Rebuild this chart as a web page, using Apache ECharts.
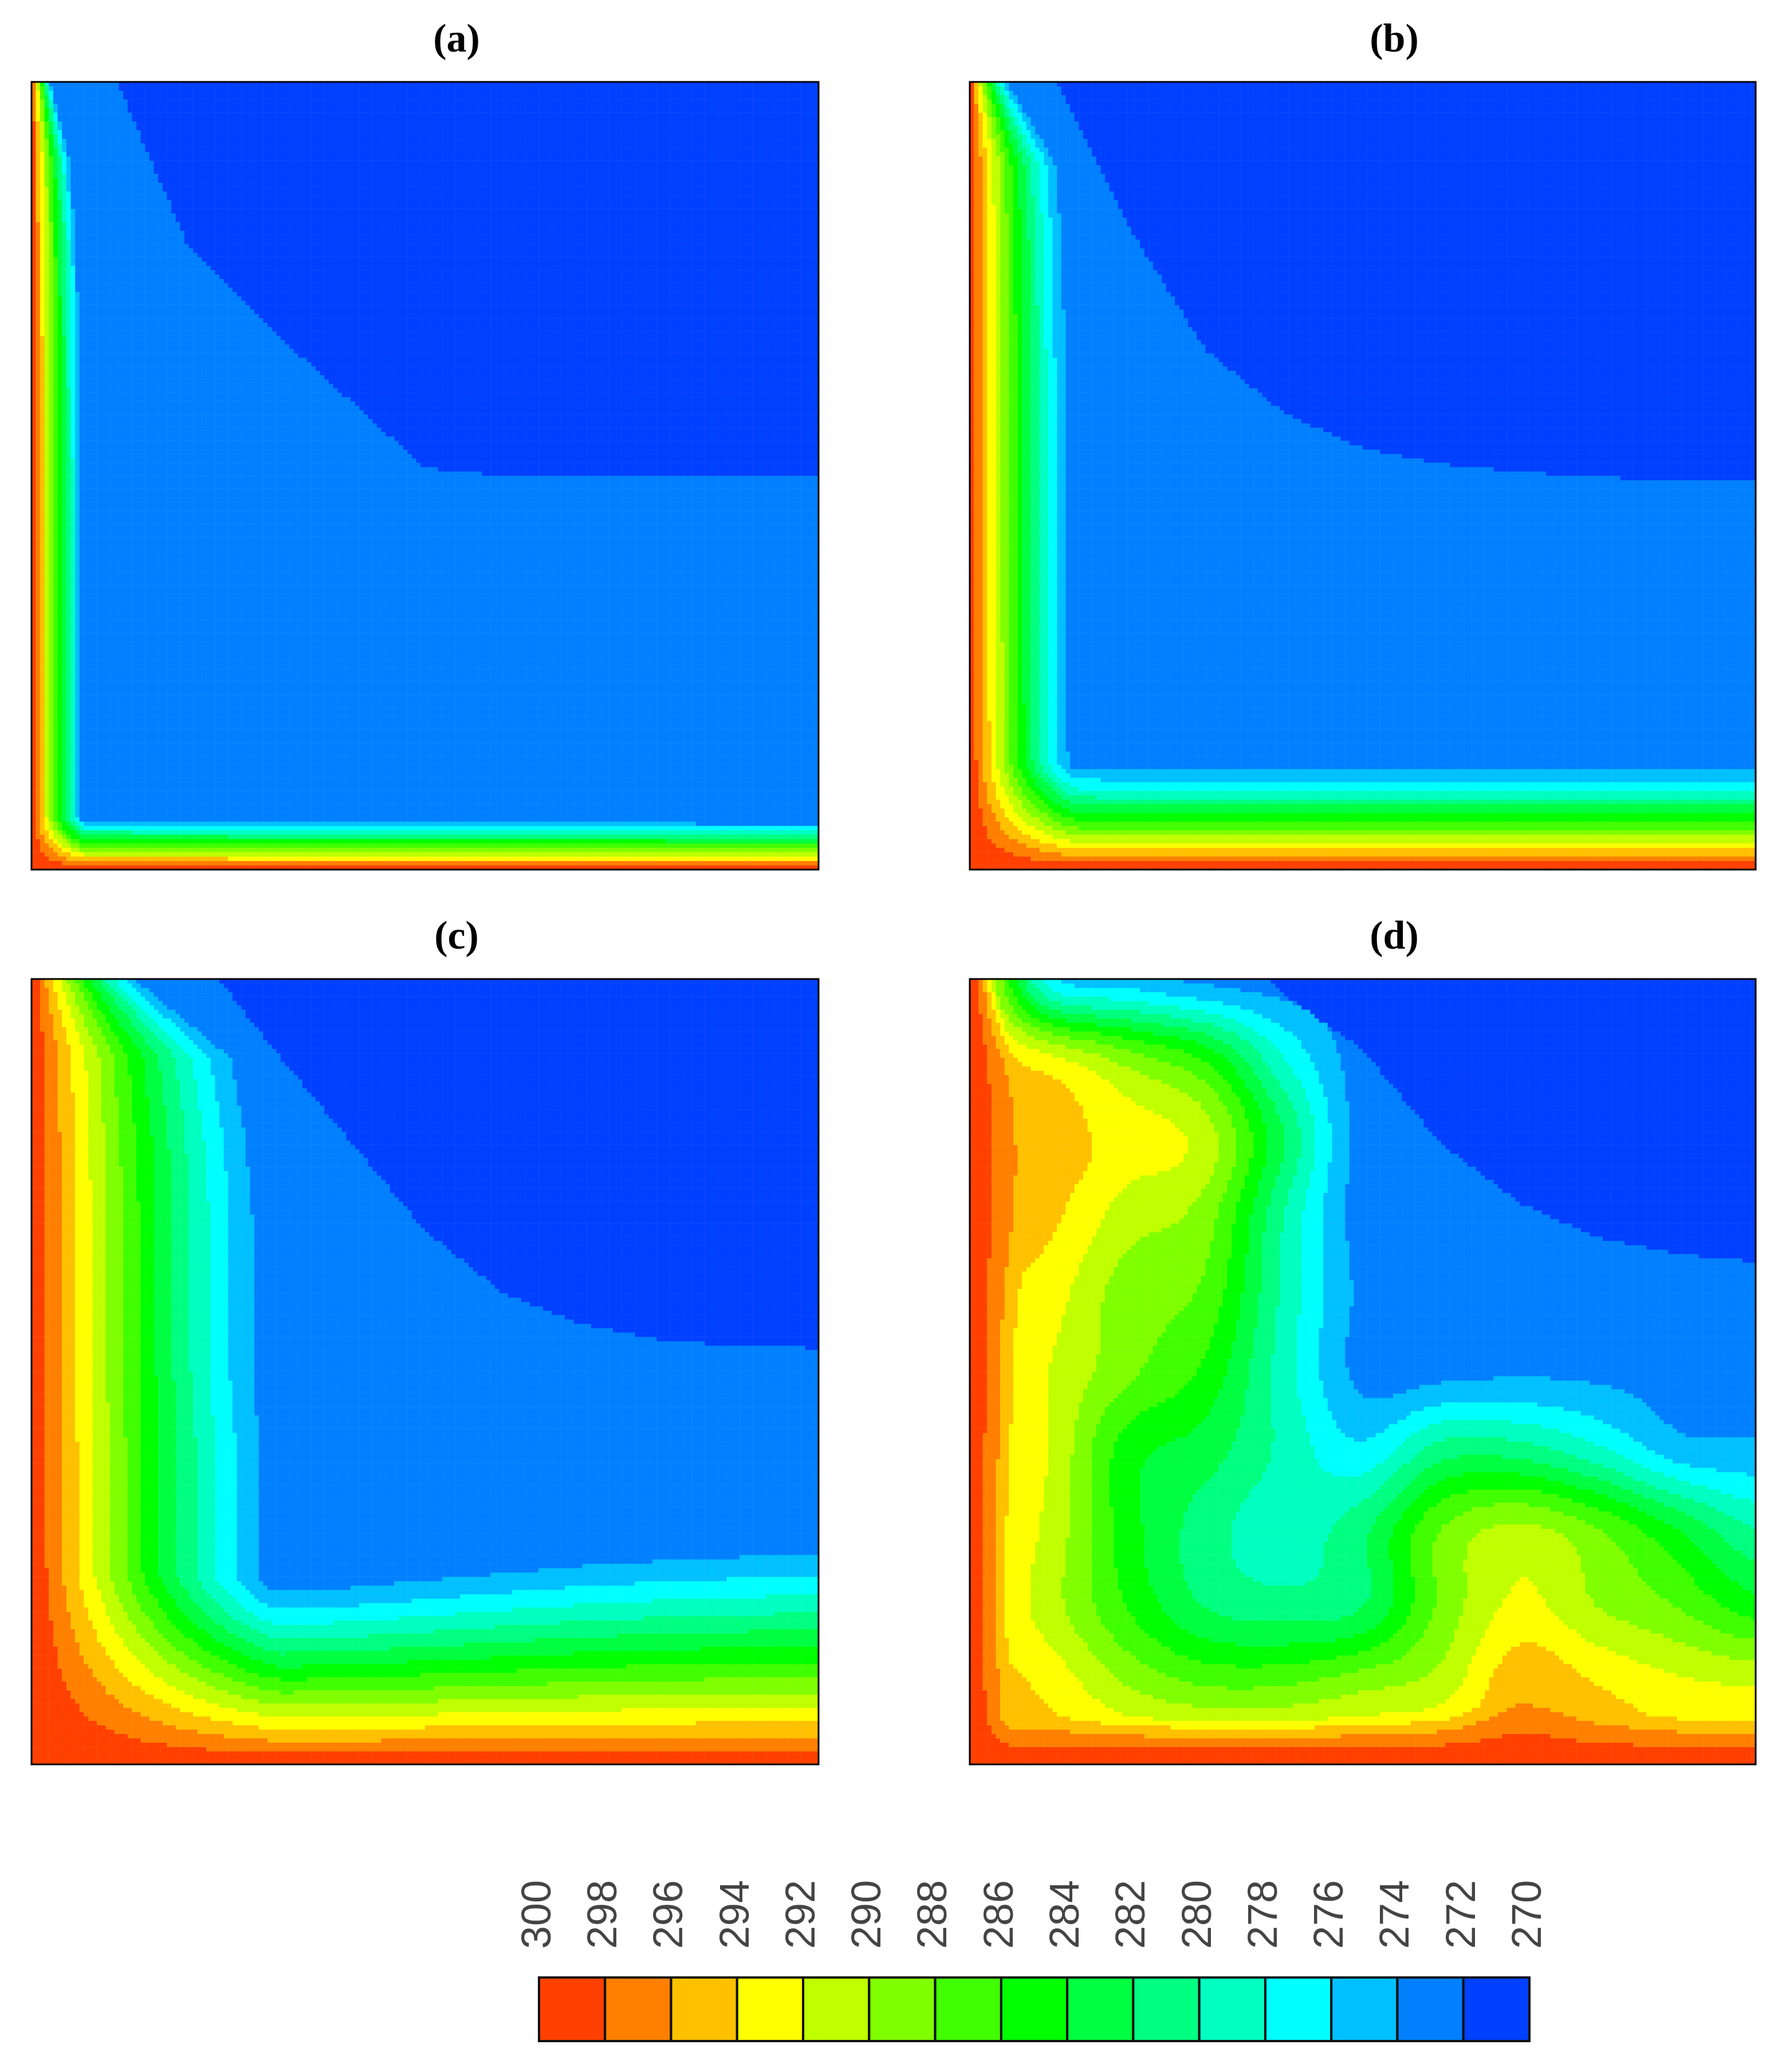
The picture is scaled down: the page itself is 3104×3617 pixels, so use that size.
<!DOCTYPE html>
<html><head><meta charset="utf-8">
<script src="https://cdn.jsdelivr.net/npm/echarts@6/dist/echarts.min.js"></script>
<style>html,body{margin:0;padding:0;background:#fff}#c{width:3104px;height:3617px}</style>
</head><body><div id="c"></div>
<script>
// ---- data ----
const panelLabels = ['a','b','c','d'];
const levelTicks = [300,298,296,294,292,290,288,286,284,282,280,278,276,274,272,270];
const bandColors = ['#ff4000','#ff8000','#ffc000','#ffff00','#c0ff00','#80ff00','#40ff00','#00ff00',
                    '#00ff40','#00ff80','#00ffc0','#00ffff','#00c0ff','#0080ff','#0040ff'];
const wallT = 300, warmCoreT = 273, coldCoreT = 271;
// boundary-layer thickness (fraction of width) of hot left wall, sampled at v = 0,0.1..1 (bottom->top)
const a_leftTh = [0.065,0.065,0.065,0.065,0.065,0.065,0.064,0.062,0.058,0.05,0.025];
const b_leftTh = [0.14,0.135,0.132,0.13,0.13,0.13,0.13,0.128,0.125,0.115,0.05];
const c_leftTh = [0.32,0.32,0.31,0.31,0.31,0.30,0.30,0.30,0.29,0.27,0.14];
const d_leftTh = [0.05,0.05,0.05,0.05,0.055,0.06,0.065,0.07,0.07,0.06,0.03];
// bottom-wall layer thickness sampled at u = 0..1
const a_botTh = [0.066,0.064,0.063,0.062,0.062,0.062,0.062,0.061,0.061,0.06,0.06];
const b_botTh = [0.14,0.137,0.135,0.135,0.135,0.135,0.135,0.135,0.135,0.135,0.135];
const c_botTh = [0.26,0.25,0.24,0.235,0.24,0.25,0.26,0.27,0.277,0.282,0.286];
const d_botTh = [0.06,0.06,0.06,0.06,0.06,0.06,0.065,0.08,0.065,0.06,0.06];
// height (v) of the cold-core boundary sampled at u = 0..1
const a_coldLine = [1.2,1.02,0.79,0.69,0.60,0.51,0.50,0.50,0.50,0.50,0.50];
const b_coldLine = [1.2,1.02,0.82,0.66,0.58,0.535,0.515,0.505,0.498,0.495,0.494];
const c_coldLine = [1.4,1.25,1.05,0.92,0.80,0.68,0.60,0.56,0.54,0.533,0.53];
const d_coldLine = [1.5,1.4,1.25,1.1,0.98,0.91,0.79,0.715,0.67,0.65,0.64];
const layerExp = [1.0,1.2,1.2,1.0];
// panel (d) core temperature grid, rows v=1 (top) .. v=0 (bottom), columns u=0..1
const d_grid = [
 [295,277,275,273.5,273,273,273,273,273,273,273],
 [295,292.5,289,285.5,278,273,273,273,273,273,273],
 [295,295,293,291,282,273,273,273,273,273,273],
 [295,294.5,291,289,280,273,273,273,273,273,273],
 [294.5,293,289,287.5,279.5,273.5,273,273,273,273,273],
 [294.5,292,288.5,285.5,279,273.3,273.3,273.7,273.5,273.2,273],
 [294.5,292,285,283,279.5,276.5,281,281,278.5,275,274.5],
 [294.5,291.5,285,281,279,281.5,288,290.5,288,284,280],
 [294.5,291,286,282,281,282,288.5,292.5,290,288,285],
 [295,293.5,290,288,288,289.5,291,295.5,294,292.5,292],
 [295,295,295,295,295,295,295.5,296,295.5,295,295]
];
// ---- layout ----
const N = 180;
const panelBoxes = [[55,143,1374,1375],[1693,143,1372,1375],[55,1709,1374,1371],[1693,1709,1372,1371]];
const barBox = [941,3452,1729,111];

function samp(arr,t){t=Math.max(0,Math.min(1,t))*(arr.length-1);const i=Math.min(arr.length-2,Math.floor(t));const f=t-i;return arr[i]*(1-f)+arr[i+1]*f;}
function cr(p0,p1,p2,p3,t){return 0.5*((2*p1)+(-p0+p2)*t+(2*p0-5*p1+4*p2-p3)*t*t+(-p0+3*p1-3*p2+p3)*t*t*t);}
function gridAt(g,u,v){
  const R=g.length-1,C=g[0].length-1;const r=(1-v)*R,c=u*C;
  const ri=Math.min(R-1,Math.floor(r)),ci=Math.min(C-1,Math.floor(c));const fr=r-ri,fc=c-ci;
  const G=(a,b)=>g[Math.max(0,Math.min(R,a))][Math.max(0,Math.min(C,b))];
  const rows=[];for(let k=-1;k<=2;k++){rows.push(cr(G(ri+k,ci-1),G(ri+k,ci),G(ri+k,ci+1),G(ri+k,ci+2),fc));}
  return cr(rows[0],rows[1],rows[2],rows[3],fr);
}
const layerSets=[[a_leftTh,a_botTh,a_coldLine,null],[b_leftTh,b_botTh,b_coldLine,null],[c_leftTh,c_botTh,c_coldLine,null],[d_leftTh,d_botTh,d_coldLine,d_grid]];
function temp(p,u,v){
  const [lt,bt,cl,gr]=layerSets[p];const e=layerExp[p];
  const cold = v > samp(cl,u);
  let core;
  if(gr){core=gridAt(gr,u,v); core = cold ? Math.min(core,coldCoreT) : Math.max(core,272.3);}
  else core = cold ? coldCoreT : warmCoreT;
  const f=Math.pow(Math.max(0,1-u/samp(lt,v)),e);
  const g=Math.pow(Math.max(0,1-v/samp(bt,u)),e);
  const un=1-(1-f)*(1-g);
  return core+(wallT-core)*un;
}
const cats=[];for(let i=0;i<N;i++)cats.push(i);
const grids=[],xAxes=[],yAxes=[],series=[],titles=[],graphics=[];
panelBoxes.forEach((b,p)=>{
  grids.push({left:b[0],top:b[1],width:b[2],height:b[3]});
  xAxes.push({type:'category',data:cats,gridIndex:p,show:false});
  yAxes.push({type:'category',data:cats,gridIndex:p,show:false});
  const data=[];
  for(let i=0;i<N;i++)for(let j=0;j<N;j++){data.push([i,j,temp(p,(i+0.5)/N,(j+0.5)/N)]);}
  series.push({type:'heatmap',xAxisIndex:p,yAxisIndex:p,data:data,progressive:0,silent:true,itemStyle:{borderWidth:0}});
  graphics.push({type:'rect',shape:{x:b[0],y:b[1],width:b[2],height:b[3]},style:{fill:null,stroke:'#000',lineWidth:3},z:100});
  titles.push({text:'{p|(}{b|'+panelLabels[p]+'}{p|)}',left:b[0]+b[2]/2+50,top:p<2?32:1598,textAlign:'center',
    textStyle:{rich:{p:{fontFamily:'Liberation Serif',fontSize:70,color:'#000'},b:{fontFamily:'Liberation Serif',fontSize:70,fontWeight:'bold',color:'#000'}}}});
});
// colour bar
grids.push({left:barBox[0],top:barBox[1],width:barBox[2],height:barBox[3]});
xAxes.push({type:'value',gridIndex:4,min:270,max:300,interval:2,inverse:true,position:'top',
  axisLine:{show:false},axisTick:{show:false},splitLine:{show:false},
  axisLabel:{rotate:90,fontSize:72,fontFamily:'Liberation Sans',color:'#444',margin:50}});
yAxes.push({type:'value',gridIndex:4,min:0,max:1,show:false});
const barData=[];for(let k=0;k<bandColors.length;k++){barData.push([levelTicks[k+1],levelTicks[k],k]);}
series.push({type:'custom',xAxisIndex:4,yAxisIndex:4,data:barData,silent:true,
  renderItem:function(params,api){const p0=api.coord([api.value(1),1]);const p1=api.coord([api.value(0),0]);
    return {type:'rect',shape:{x:p0[0],y:p0[1],width:p1[0]-p0[0],height:p1[1]-p0[1]},
      style:{fill:bandColors[api.value(2)],stroke:'#111',lineWidth:4}};}});
const pieces=[];
for(let k=0;k<bandColors.length;k++){const hi=levelTicks[k],lo=levelTicks[k+1];
  const pc={color:bandColors[k]}; if(k>0)pc.lt=hi; if(k<bandColors.length-1)pc.gte=lo; pieces.push(pc);}
const chart=echarts.init(document.getElementById('c'),null,{renderer:'canvas'});
chart.setOption({backgroundColor:'#fff',animation:false,title:titles,grid:grids,xAxis:xAxes,yAxis:yAxes,
  visualMap:{type:'piecewise',show:false,dimension:2,seriesIndex:[0,1,2,3],pieces:pieces},
  series:series,graphic:graphics});
</script></body></html>
